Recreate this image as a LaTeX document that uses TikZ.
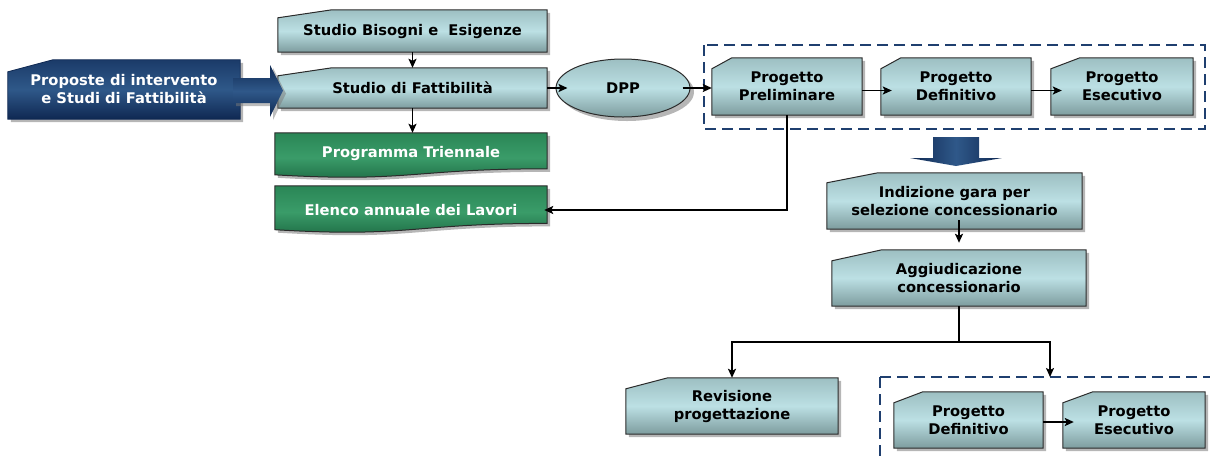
\documentclass[tikz,border=0pt]{standalone}
\usepackage{fontspec}
\setmainfont{DejaVu Sans}
\usetikzlibrary{arrows.meta,calc,backgrounds,shapes.geometric}

\definecolor{boxtop}{HTML}{9DBFC2}
\definecolor{boxmid}{HTML}{BCE0E4}
\definecolor{boxbot}{HTML}{7D9C9E}
\definecolor{grntop}{HTML}{2A8656}
\definecolor{grnmid}{HTML}{3A9C69}
\definecolor{grnbot}{HTML}{1D6A43}
\definecolor{navtop}{HTML}{1B3B69}
\definecolor{navmid}{HTML}{2F5889}
\definecolor{navbot}{HTML}{0F2852}
\definecolor{dashblue}{HTML}{1F3F6F}
\definecolor{edgegray}{HTML}{2B2B2B}
\definecolor{shadowgray}{HTML}{7A7A7A}

% manual-input box: #1 node, #2 slant width, #3 slant drop, #4 fill style
\newcommand\mishape[4]{%
  \fill[shadowgray, opacity=.55, transform canvas={shift={(3pt,-3pt)}}]
    (#1.south west) -- ($(#1.north west)+(0,#3)$) -- ($(#1.north west)+(#2,0)$)
    -- (#1.north east) -- (#1.south east) -- cycle;
  \path[#4]
    (#1.south west) -- ($(#1.north west)+(0,#3)$) -- ($(#1.north west)+(#2,0)$)
    -- (#1.north east) -- (#1.south east) -- cycle;
}
% document box with wavy bottom: #1 node, #2 shape height, #3 fill style
\newcommand\docshape[3]{%
  \fill[shadowgray, opacity=.55, transform canvas={shift={(3pt,-3pt)}}]
    (#1.north west) -- (#1.north east) -- ($(#1.north east)+(0,0.8*#2)$)
    .. controls ($(#1.north)+(0,0.8*#2)$) and ($(#1.north)+(0,1.107*#2)$) ..
    ($(#1.north west)+(0,0.934*#2)$) -- cycle;
  \path[#3]
    (#1.north west) -- (#1.north east) -- ($(#1.north east)+(0,0.8*#2)$)
    .. controls ($(#1.north)+(0,0.8*#2)$) and ($(#1.north)+(0,1.107*#2)$) ..
    ($(#1.north west)+(0,0.934*#2)$) -- cycle;
}

\tikzset{
  lbl/.style={font=\bfseries\fontsize{14.7}{18}\selectfont, align=center,
    text=black, inner sep=0pt, rectangle},
  wlbl/.style={lbl, text=white},
  lightfill/.style={top color=boxtop, bottom color=boxbot, middle color=boxmid,
    draw=edgegray, line width=1pt},
  greenfill/.style={top color=grntop, bottom color=grnbot, middle color=grnmid,
    draw=edgegray, line width=1pt},
  navyfill/.style={top color=navtop, bottom color=navbot, middle color=navmid,
    draw=navbot, line width=0.8pt},
  link/.style={draw=black, line width=1.8pt, -{Stealth[length=9pt,width=8pt,inset=2pt]}},
  plain/.style={draw=black, line width=1.8pt},
  dashframe/.style={draw=dashblue, line width=2.5pt, dash pattern=on 11pt off 6pt},
}

\begin{document}
\begin{tikzpicture}[x=1pt, y=-1pt]
\useasboundingbox (0,0) rectangle (1210,459);
\clip (0,0) rectangle (1210,459);

% ---- left column
\node[wlbl, minimum width=232pt, minimum height=59pt] (prop) at (124,89.5)
  {Proposte di intervento\\e Studi di Fattibilità};
\node[lbl, minimum width=269pt, minimum height=42pt] (bisogni) at (412.5,31)
  {Studio Bisogni e\ \ Esigenze};
\node[lbl, minimum width=269pt, minimum height=40pt] (fatt) at (412.5,88)
  {Studio di Fattibilità};
\node[wlbl, minimum width=272pt, minimum height=40pt] (prog) at (411,153)
  {Programma Triennale};
\node[wlbl, minimum width=272pt, minimum height=48pt] (elenco) at (411,210)
  {Elenco annuale dei Lavori};

% ---- DPP and design phases
\node[lbl, ellipse, minimum width=134pt, minimum height=58pt,
  top color=boxtop, bottom color=boxbot, middle color=boxmid,
  draw=edgegray, line width=1pt] (dpp) at (623,88) {DPP};
\node[lbl, minimum width=150pt, minimum height=57pt] (pp) at (787,86.5)
  {Progetto\\Preliminare};
\node[lbl, minimum width=150pt, minimum height=57pt] (pd) at (956,86.5)
  {Progetto\\Definitivo};
\node[lbl, minimum width=142pt, minimum height=57pt] (pe) at (1122,86.5)
  {Progetto\\Esecutivo};

% ---- concession branch
\node[lbl, minimum width=255pt, minimum height=56pt] (ind) at (954.5,201)
  {Indizione gara per\\selezione concessionario};
\node[lbl, minimum width=254pt, minimum height=56pt] (agg) at (959,278)
  {Aggiudicazione\\concessionario};
\node[lbl, minimum width=212pt, minimum height=56pt] (rev) at (732,406)
  {Revisione\\progettazione};
\node[lbl, minimum width=149pt, minimum height=56pt] (pd2) at (968.5,420)
  {Progetto\\Definitivo};
\node[lbl, minimum width=142pt, minimum height=56pt] (pe2) at (1134,420)
  {Progetto\\Esecutivo};
\coordinate (frametop) at (1050,377);

\begin{scope}[on background layer]
  \fill[shadowgray, opacity=.55] (627,92) ellipse [x radius=67pt, y radius=29pt];
  \mishape{prop}{45}{12}{navyfill}
  \mishape{bisogni}{54}{8}{lightfill}
  \mishape{fatt}{54}{8}{lightfill}
  \docshape{prog}{45}{greenfill}
  \docshape{elenco}{47}{greenfill}
  \mishape{pp}{20}{11}{lightfill}
  \mishape{pd}{20}{11}{lightfill}
  \mishape{pe}{29}{11}{lightfill}
  \mishape{ind}{51}{10}{lightfill}
  \mishape{agg}{50}{11}{lightfill}
  \mishape{rev}{42}{11}{lightfill}
  \mishape{pd2}{29}{11}{lightfill}
  \mishape{pe2}{30}{11}{lightfill}
\end{scope}

% dashed frames around design phases
\draw[dashframe] (704,45) rectangle (1205,129);
\draw[dashframe] (880,377) rectangle (1240,490);

% block arrows
\fill[shadowgray, opacity=.5, transform canvas={shift={(3pt,-3pt)}}]
  (233,78) -- (270,78) -- (270,65) -- (283,90.5) -- (270,117) -- (270,103) -- (233,103) -- cycle;
\path[navyfill, draw=none, top color=navbot, bottom color=navbot, middle color=navmid]
  (233,78) -- (270,78) -- (270,65) -- (283,90.5) -- (270,117) -- (270,103) -- (233,103) -- cycle;
\path[navyfill, draw=none, left color=navbot, right color=navbot, middle color=navmid]
  (933,137) -- (979,137) -- (979,158) -- (1002,158) -- (956,166) -- (910,158) -- (933,158) -- cycle;

% connectors
\draw[link] (bisogni.south) -- (fatt.north);
\draw[link] (fatt.south) -- (fatt.south |- prog.north);
\draw[link, shorten >=-12pt] (fatt.east) -- (dpp.west);
\draw[link, shorten <=-8pt] (dpp.east) -- (dpp.east -| pp.west);
\draw[link, shorten >=-11pt] ([yshift=-4pt]pp.east) -- ([yshift=-4pt]pd.west);
\draw[link, shorten >=-11pt] ([yshift=-4pt]pd.east) -- ([yshift=-4pt]pe.west);
\draw[link, shorten >=-3pt] (pp.south) |- (elenco.east);
\draw[link, shorten <=-9pt, shorten >=7pt] (agg.north |- ind.south) -- (agg.north);
\draw[plain] (agg.south) -- ++(0,36) coordinate (split);
\draw[link] (split) -| (rev.north);
\draw[link] (split) -| (frametop);
\draw[link, shorten >=-11pt] ([yshift=-2pt]pd2.east) -- ([yshift=-2pt]pe2.west);
\end{tikzpicture}
\end{document}
